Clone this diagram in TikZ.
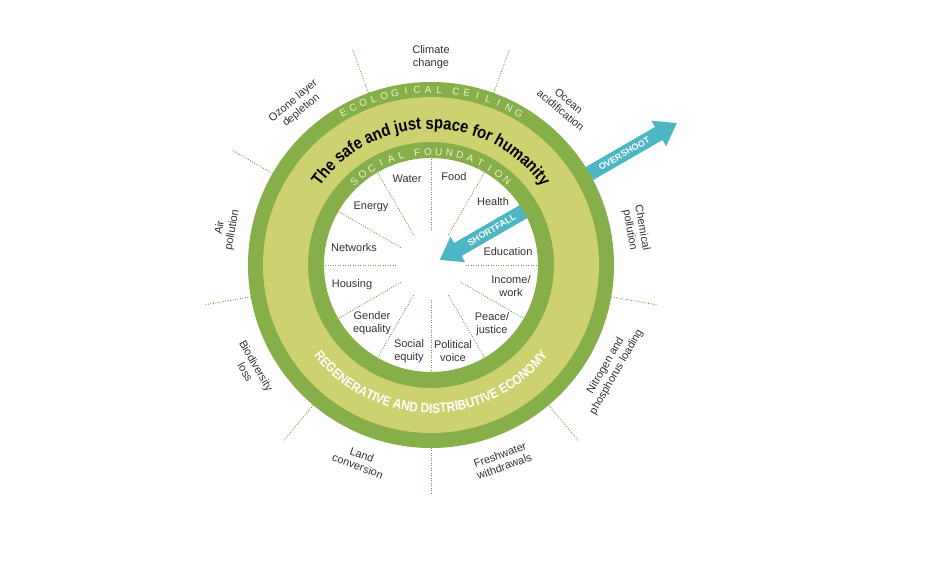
\documentclass[tikz,border=0pt]{standalone}
\usepackage{fontspec}
\setmainfont{Liberation Sans}
\newfontfamily\condfont[FakeStretch=0.87]{Liberation Sans}
\usepackage{tikz}
\usetikzlibrary{arrows.meta,decorations.text}
\definecolor{ringdark}{RGB}{134,174,73}
\definecolor{ringlight}{RGB}{205,209,112}
\definecolor{flowteal}{RGB}{77,182,196}
\definecolor{ringtext}{RGB}{236,241,210}
\definecolor{labelgray}{RGB}{50,50,50}
\definecolor{dotgreen}{RGB}{104,156,52}
\tikzset{
  dimlabel/.style={align=center, font=\fontsize{11}{12.5}\selectfont,
                   text=labelgray, inner sep=1pt},
  boundlabel/.style={align=center, font=\fontsize{11}{12.5}\selectfont,
                     text=labelgray, inner sep=1pt},
  ringletter/.style={anchor=base, font=\fontsize{10}{10}\selectfont,
                     text=ringtext, inner sep=0pt},
  divider/.style={dotgreen, dash pattern=on 0.9pt off 1.6pt, line width=0.9pt},
  flowarrow/.style={flowteal, line width=15pt, -{Triangle[length=21pt,width=28pt]}},
  flowtext/.style={text=white, font=\bfseries\fontsize{9}{9}\selectfont, inner sep=0pt}
}

\begin{document}
\begin{tikzpicture}[x=1pt,y=1pt]
  \useasboundingbox (-431,-307) rectangle (515,265);
  % dotted dividers
  \foreach \a in {110,70,30,-10,-50,-90,-130,-170,150}
    \draw[divider] (\a:183) -- (\a:230);
  \foreach \a in {0,30,...,330}
    \draw[divider] (\a:35) -- (\a:107);
  % overshoot and shortfall (under the rings)
  \coordinate (over0) at (30:172);
  \coordinate (over1) at (30:284);
  \coordinate (short0) at (30:118);
  \coordinate (short1) at (30:10);
  \draw[flowarrow] (over0) -- (over1);
  \draw[flowarrow] (short0) -- (short1);
  \node[flowtext, rotate=30] (overtxt) at (30:223) {OVERSHOOT};
  \node[flowtext, rotate=30] (shorttxt) at (30:70) {SHORTFALL};
  % rings
  \fill[ringdark, even odd rule] (0,0) circle[radius=183pt] (0,0) circle[radius=107pt];
  \fill[ringlight, even odd rule] (0,0) circle[radius=168pt] (0,0) circle[radius=123pt];
  % ring captions
  \foreach \ch [count=\i, evaluate=\i as \a using 120-(\i-1+0.5*(\i>10))*3.636] in
      {E,C,O,L,O,G,I,C,A,L,C,E,I,L,I,N,G}
    \node[ringletter, rotate=\a-90] (eco\i) at (\a:172) {\ch};
  \foreach \ch [count=\i, evaluate=\i as \a using 132.5-(\i-1+0.5*(\i>6))*5.46] in
      {S,O,C,I,A,L,F,O,U,N,D,A,T,I,O,N}
    \node[ringletter, rotate=\a-90] (soc\i) at (\a:110) {\ch};
  \path[decorate, decoration={text along path, text align=center, text color=black,
        text={|\condfont\bfseries\fontsize{17}{17}\selectfont|The safe and just space for humanity}}]
    (150:136) arc[start angle=150, end angle=30, radius=136pt];
  \path[decorate, decoration={text along path, text align=center, text color=white,
        text={|\condfont\bfseries\fontsize{13.5}{14}\selectfont|REGENERATIVE AND DISTRIBUTIVE ECONOMY}}]
    (-150:148) arc[start angle=-150, end angle=-30, radius=148pt];
  % planetary boundaries
  \foreach \a/\rot/\txt [count=\k] in {90/0/{Climate\\change},
      50/-40/{Ocean\\acidification}, 10/-80/{Chemical\\pollution},
      -30/60/{Nitrogen and\\phosphorus loading}, -70/20/{Freshwater\\withdrawals},
      -110/-20/{Land\\conversion}, -150/-60/{Biodiversity\\loss},
      170/80/{Air\\pollution}, 130/40/{Ozone layer\\depletion}}
    \node[boundlabel, rotate=\rot] (bound\k) at (\a:208) {\txt};
  % social dimensions
  \node[dimlabel] (water) at (-24,86) {Water};
  \node[dimlabel] (food) at (23,88) {Food};
  \node[dimlabel] (health) at (62,63) {Health};
  \node[dimlabel] (education) at (77,13) {Education};
  \node[dimlabel] (income) at (80,-21) {Income/\\work};
  \node[dimlabel] (peace) at (61,-59) {Peace/\\justice};
  \node[dimlabel] (political) at (22,-86) {Political\\voice};
  \node[dimlabel] (equity) at (-22,-86) {Social\\equity};
  \node[dimlabel] (gender) at (-59,-58) {Gender\\equality};
  \node[dimlabel] (housing) at (-79,-20) {Housing};
  \node[dimlabel] (networks) at (-77,17) {Networks};
  \node[dimlabel] (energy) at (-60,58) {Energy};
\end{tikzpicture}
\end{document}
